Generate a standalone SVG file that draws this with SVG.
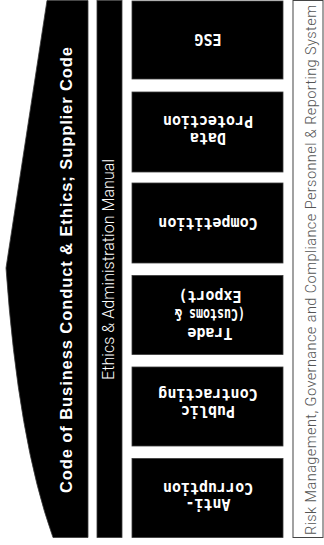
<svg xmlns="http://www.w3.org/2000/svg" width="324" height="545" viewBox="0 0 324 545">
  <style>
    .blk { fill: #000; stroke: #3a3a3a; stroke-width: 0.8; }
    .box-t { font-family: "DejaVu Sans Mono", "Liberation Mono", monospace; font-weight: bold; font-size: 15px; fill: #fff; text-anchor: middle; }
    .title { font-family: "Liberation Sans", Arial, sans-serif; font-weight: bold; font-size: 16.5px; fill: #fff; text-anchor: middle; }
    .thin-w { font-family: Roboto, "Liberation Sans", sans-serif; font-weight: 300; font-size: 16px; fill: #fff; text-anchor: middle; }
    .thin-g { font-family: Roboto, "Liberation Sans", sans-serif; font-weight: 300; font-size: 14.5px; fill: #555; text-anchor: middle; }
  </style>
  <rect width="324" height="545" fill="#fff"/>

  <g id="code-of-conduct">
    <path class="blk" d="M47,0.5 L88,0.5 L88,537.5 L53,537.5 Q18,440 6,268 Z"/>
    <text class="title" transform="translate(71.5 270) rotate(-90)" x="0" y="0" textLength="446" lengthAdjust="spacing">Code of Business Conduct &amp; Ethics; Supplier Code</text>
  </g>

  <g id="ethics-manual">
    <rect class="blk" x="97" y="0.5" width="25" height="537"/>
    <text class="thin-w" transform="translate(114 269.5) rotate(-90)" x="0" y="0" textLength="221" lengthAdjust="spacing">Ethics &amp; Administration Manual</text>
  </g>

  <g id="esg">
    <rect class="blk" x="132" y="1" width="151" height="78"/>
    <text class="box-t" x="208" y="44.4" transform="rotate(180 208 39)">ESG</text>
  </g>

  <g id="data-protection">
    <rect class="blk" x="132" y="92" width="151" height="80"/>
    <text class="box-t" x="208" y="143.4" transform="rotate(180 208 138)">Data</text>
    <text class="box-t" x="208" y="126.4" transform="rotate(180 208 121)">Protection</text>
  </g>

  <g id="competition">
    <rect class="blk" x="132" y="183" width="151" height="80"/>
    <text class="box-t" x="208" y="228.4" transform="rotate(180 208 223)">Competition</text>
  </g>

  <g id="trade">
    <rect class="blk" x="132" y="275.5" width="151" height="79"/>
    <text class="box-t" x="210" y="338.4" transform="rotate(180 210 333)">Trade</text>
    <text class="box-t" x="210" y="319.9" transform="rotate(180 210 314.5)" textLength="70" lengthAdjust="spacingAndGlyphs">(Customs &amp;</text>
    <text class="box-t" x="210" y="301.4" transform="rotate(180 210 296)">Export)</text>
  </g>

  <g id="public-contracting">
    <rect class="blk" x="132" y="367" width="151" height="79"/>
    <text class="box-t" x="208" y="416.4" transform="rotate(180 208 411)">Public</text>
    <text class="box-t" x="208" y="399.4" transform="rotate(180 208 394)">Contracting</text>
  </g>

  <g id="anti-corruption">
    <rect class="blk" x="132" y="458.5" width="151" height="79"/>
    <text class="box-t" x="208" y="509.4" transform="rotate(180 208 504)">Anti-</text>
    <text class="box-t" x="208" y="493.4" transform="rotate(180 208 488)">Corruption</text>
  </g>

  <g id="risk-management">
    <rect x="293" y="0.5" width="30" height="537" fill="#fff" stroke="#444" stroke-width="1"/>
    <text class="thin-g" transform="translate(315.5 270) rotate(-90)" x="0" y="0" textLength="530" lengthAdjust="spacing">Risk Management, Governance and Compliance Personnel &amp; Reporting System</text>
  </g>

  <g id="connectors"></g>
</svg>
